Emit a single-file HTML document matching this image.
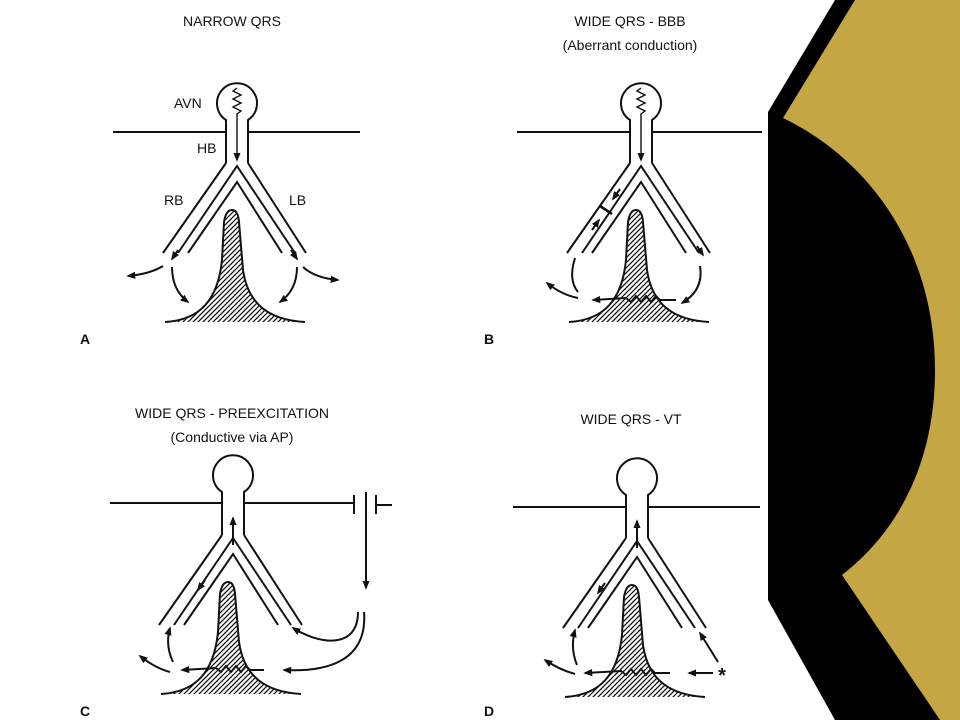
<!DOCTYPE html>
<html><head><meta charset="utf-8"><style>
html,body{margin:0;padding:0;background:#fff}
svg{display:block}
text{font-family:"Liberation Sans",Arial,sans-serif;fill:#111}
</style></head><body>
<svg width="960" height="720" viewBox="0 0 960 720" xmlns="http://www.w3.org/2000/svg">
<defs>
<pattern id="h" width="5" height="5" patternUnits="userSpaceOnUse">
<path d="M-1,6 L6,-1 M-3,3 L3,-3 M2,8 L8,2" stroke="#111" stroke-width="1.3"/>
</pattern>
<marker id="a" viewBox="0 0 10 10" refX="8" refY="5" markerWidth="9" markerHeight="9" orient="auto" markerUnits="userSpaceOnUse">
<path d="M0,1 L10,5 L0,9 Z" fill="#111"/>
</marker>
<g id="sk" fill="none" stroke="#111" stroke-width="2">
<path d="M226,163 L226,120 A20,20 0 1 1 248,120 L248,163"/>
<path d="M226,163 L163,253 M248,163 L306,253"/>
<path d="M178,253 L237,166 L295,253"/>
<path d="M188,253 L237,182 L282,253"/>
<path d="M165,322 C200,320 218,300 222,260 L224,222 Q226,210 232,210 Q238,210 239,222 L243,270 C248,305 270,320 305,322" fill="url(#h)"/>
</g>
</defs>

<!-- right decoration -->
<polygon points="835,0 960,0 960,720 835,720 768,600 768,112" fill="#000"/>
<path d="M855,0 L960,0 L960,720 L940,720 L842,575 C900,530 935,460 935,370 C935,250 870,160 783,118 Z" fill="#c4a645"/>

<!-- Panel A -->
<use href="#sk"/>
<g fill="none" stroke="#111" stroke-width="2">
<path d="M113,132 H226 M248,132 H360"/>
<path d="M237,88 l-4,3 l8,4 l-8,4 l8,4 l-8,4 l8,4 l-4,3 L237,160" stroke-width="1.4" marker-end="url(#a)"/>
<path d="M178,250 l-6,9" marker-end="url(#a)"/>
<path d="M291,250 l6,9" marker-end="url(#a)"/>
<path d="M163,266 Q150,274 128,276" marker-end="url(#a)"/>
<path d="M172,267 Q172,290 188,302" marker-end="url(#a)"/>
<path d="M303,267 Q315,278 338,280" marker-end="url(#a)"/>
<path d="M297,267 Q297,290 280,302" marker-end="url(#a)"/>
</g>
<text x="232" y="26" font-size="14" text-anchor="middle">NARROW QRS</text>
<text x="174" y="108" font-size="14">AVN</text>
<text x="197" y="153" font-size="14">HB</text>
<text x="164" y="205" font-size="14">RB</text>
<text x="289" y="205" font-size="14">LB</text>
<text x="80" y="344" font-size="14" font-weight="bold">A</text>

<!-- Panel B -->
<use href="#sk" transform="translate(404,0)"/>
<g fill="none" stroke="#111" stroke-width="2">
<path d="M517,132 H630 M652,132 H762"/>
<path d="M641,88 l-4,3 l8,4 l-8,4 l8,4 l-8,4 l8,4 l-4,3 L641,160" stroke-width="1.4" marker-end="url(#a)"/>
<path d="M620,189 l-7,10" marker-end="url(#a)"/>
<path d="M592,230 l7,-10" marker-end="url(#a)"/>
<path d="M600,206 l12,8" stroke-width="2.6"/>
<path d="M697,246 l6,9" marker-end="url(#a)"/>
<path d="M575,258 Q568,280 578,292"/>
<path d="M578,298 Q562,295 547,283" marker-end="url(#a)"/>
<path d="M700,266 Q704,290 682,303" marker-end="url(#a)"/>
<path d="M676,300 L660,300 l-4,-4 l-5,6 l-5,-6 l-5,6 l-5,-6 l-5,6 l-5,-4 L593,300" marker-end="url(#a)"/>
</g>
<text x="630" y="26" font-size="14" text-anchor="middle">WIDE QRS - BBB</text>
<text x="630" y="50" font-size="14" text-anchor="middle">(Aberrant conduction)</text>
<text x="484" y="344" font-size="14" font-weight="bold">B</text>

<!-- Panel C -->
<use href="#sk" transform="translate(-4,372)"/>
<g fill="none" stroke="#111" stroke-width="2">
<path d="M110,503 H222 M244,503 H353"/>
<path d="M354,495 V514 M376,495 V514 M376,505 H392"/>
<path d="M366,492 V588" marker-end="url(#a)"/>
<path d="M233,545 L233,518" marker-end="url(#a)"/>
<path d="M205,580 l-7,10" marker-end="url(#a)"/>
<path d="M358,612 C358,648 322,646 293,628" marker-end="url(#a)"/>
<path d="M364,612 C368,664 322,672 284,670" marker-end="url(#a)"/>
<path d="M264,670 L250,670 l-4,-4 l-5,6 l-5,-6 l-5,6 l-5,-6 l-5,6 l-5,-4 L182,670" marker-end="url(#a)"/>
<path d="M170,672 Q155,668 140,656" marker-end="url(#a)"/>
<path d="M173,662 Q165,645 170,628" marker-end="url(#a)"/>
</g>
<text x="232" y="418" font-size="14" text-anchor="middle">WIDE QRS - PREEXCITATION</text>
<text x="232" y="442" font-size="14" text-anchor="middle">(Conductive via AP)</text>
<text x="80" y="716" font-size="14" font-weight="bold">C</text>

<!-- Panel D -->
<use href="#sk" transform="translate(400,375)"/>
<g fill="none" stroke="#111" stroke-width="2">
<path d="M513,507 H626 M648,507 H760"/>
<path d="M637,548 L637,521" marker-end="url(#a)"/>
<path d="M605,583 l-7,10" marker-end="url(#a)"/>
<path d="M718,662 L700,633" marker-end="url(#a)"/>
<path d="M713,673 L689,673" marker-end="url(#a)"/>
<path d="M670,673 L655,673 l-4,-4 l-5,6 l-5,-6 l-5,6 l-5,-6 l-5,6 l-5,-4 L585,673" marker-end="url(#a)"/>
<path d="M575,674 Q560,670 545,660" marker-end="url(#a)"/>
<path d="M577,665 Q570,648 575,630" marker-end="url(#a)"/>
</g>
<text x="722" y="682" font-size="20" font-weight="bold" text-anchor="middle">*</text>
<text x="631" y="424" font-size="14" text-anchor="middle">WIDE QRS - VT</text>
<text x="484" y="716" font-size="14" font-weight="bold">D</text>
</svg>
</body></html>
